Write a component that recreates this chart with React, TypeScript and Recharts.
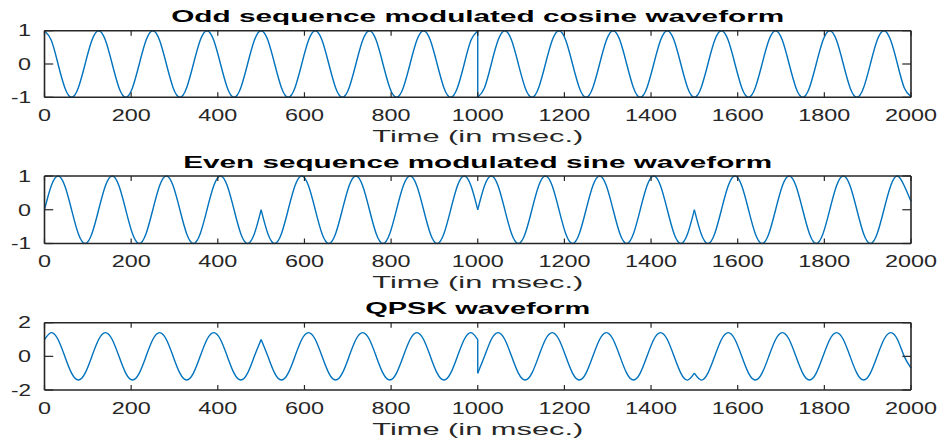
import { Label, Line, LineChart, XAxis, YAxis } from "recharts";

// sample instants (ms), 8 per 125 ms carrier period
const timeMs = [
  0, 15.625, 31.25, 46.875, 62.5, 78.125, 93.75, 109.375,
  125, 140.625, 156.25, 171.875, 187.5, 203.125, 218.75, 234.375,
  250, 265.625, 281.25, 296.875, 312.5, 328.125, 343.75, 359.375,
  375, 390.625, 406.25, 421.875, 437.5, 453.125, 468.75, 484.375,
  500, 515.625, 531.25, 546.875, 562.5, 578.125, 593.75, 609.375,
  625, 640.625, 656.25, 671.875, 687.5, 703.125, 718.75, 734.375,
  750, 765.625, 781.25, 796.875, 812.5, 828.125, 843.75, 859.375,
  875, 890.625, 906.25, 921.875, 937.5, 953.125, 968.75, 984.375,
  1000, 1015.625, 1031.25, 1046.875, 1062.5, 1078.125, 1093.75, 1109.375,
  1125, 1140.625, 1156.25, 1171.875, 1187.5, 1203.125, 1218.75, 1234.375,
  1250, 1265.625, 1281.25, 1296.875, 1312.5, 1328.125, 1343.75, 1359.375,
  1375, 1390.625, 1406.25, 1421.875, 1437.5, 1453.125, 1468.75, 1484.375,
  1500, 1515.625, 1531.25, 1546.875, 1562.5, 1578.125, 1593.75, 1609.375,
  1625, 1640.625, 1656.25, 1671.875, 1687.5, 1703.125, 1718.75, 1734.375,
  1750, 1765.625, 1781.25, 1796.875, 1812.5, 1828.125, 1843.75, 1859.375,
  1875, 1890.625, 1906.25, 1921.875, 1937.5, 1953.125, 1968.75, 1984.375,
  2000,
];

// each inner list is one bit interval, sharing its end sample with the next
const oddCosine = [
  [
    1, 0.71, 0, -0.71, -1, -0.71, 0, 0.71,
    1, 0.71, 0, -0.71, -1, -0.71, 0, 0.71,
    1, 0.71, 0, -0.71, -1, -0.71, 0, 0.71,
    1, 0.71, 0, -0.71, -1, -0.71, 0, 0.71,
    1, 0.71, 0, -0.71, -1, -0.71, 0, 0.71,
    1, 0.71, 0, -0.71, -1, -0.71, 0, 0.71,
    1, 0.71, 0, -0.71, -1, -0.71, 0, 0.71,
    1, 0.71, 0, -0.71, -1, -0.71, 0, 0.71,
    1,
  ],
  [
    -1, -0.71, 0, 0.71, 1, 0.71, 0, -0.71,
    -1, -0.71, 0, 0.71, 1, 0.71, 0, -0.71,
    -1, -0.71, 0, 0.71, 1, 0.71, 0, -0.71,
    -1, -0.71, 0, 0.71, 1, 0.71, 0, -0.71,
    -1, -0.71, 0, 0.71, 1, 0.71, 0, -0.71,
    -1, -0.71, 0, 0.71, 1, 0.71, 0, -0.71,
    -1, -0.71, 0, 0.71, 1, 0.71, 0, -0.71,
    -1, -0.71, 0, 0.71, 1, 0.71, 0, -0.71,
    -0.98,
  ],
];

const evenSine = [
  [
    0, 0.71, 1, 0.71, 0, -0.71, -1, -0.71,
    0, 0.71, 1, 0.71, 0, -0.71, -1, -0.71,
    0, 0.71, 1, 0.71, 0, -0.71, -1, -0.71,
    0, 0.71, 1, 0.71, 0, -0.71, -1, -0.71,
    0,
  ],
  [
    0, -0.71, -1, -0.71, 0, 0.71, 1, 0.71,
    0, -0.71, -1, -0.71, 0, 0.71, 1, 0.71,
    0, -0.71, -1, -0.71, 0, 0.71, 1, 0.71,
    0, -0.71, -1, -0.71, 0, 0.71, 1, 0.71,
    0,
  ],
  [
    0, 0.71, 1, 0.71, 0, -0.71, -1, -0.71,
    0, 0.71, 1, 0.71, 0, -0.71, -1, -0.71,
    0, 0.71, 1, 0.71, 0, -0.71, -1, -0.71,
    0, 0.71, 1, 0.71, 0, -0.71, -1, -0.71,
    0,
  ],
  [
    0, -0.71, -1, -0.71, 0, 0.71, 1, 0.71,
    0, -0.71, -1, -0.71, 0, 0.71, 1, 0.71,
    0, -0.71, -1, -0.71, 0, 0.71, 1, 0.71,
    0, -0.71, -1, -0.71, 0, 0.71, 1, 0.71,
    0.25,
  ],
];

const qpskWave = [
  [
    1, 1.41, 1, 0, -1, -1.41, -1, 0,
    1, 1.41, 1, 0, -1, -1.41, -1, 0,
    1, 1.41, 1, 0, -1, -1.41, -1, 0,
    1, 1.41, 1, 0, -1, -1.41, -1, 0,
    1,
  ],
  [
    1, 0, -1, -1.41, -1, 0, 1, 1.41,
    1, 0, -1, -1.41, -1, 0, 1, 1.41,
    1, 0, -1, -1.41, -1, 0, 1, 1.41,
    1, 0, -1, -1.41, -1, 0, 1, 1.41,
    1,
  ],
  [
    -1, 0, 1, 1.41, 1, 0, -1, -1.41,
    -1, 0, 1, 1.41, 1, 0, -1, -1.41,
    -1, 0, 1, 1.41, 1, 0, -1, -1.41,
    -1, 0, 1, 1.41, 1, 0, -1, -1.41,
    -1,
  ],
  [
    -1, -1.41, -1, 0, 1, 1.41, 1, 0,
    -1, -1.41, -1, 0, 1, 1.41, 1, 0,
    -1, -1.41, -1, 0, 1, 1.41, 1, 0,
    -1, -1.41, -1, 0, 1, 1.41, 1, 0,
    -0.7,
  ],
];

const timeTicks = [0, 200, 400, 600, 800, 1000, 1200, 1400, 1600, 1800, 2000];
const unitTicks = [-1, 0, 1];
const qpskTicks = [-2, 0, 2];

const AXIS = "#262626";
const BLUE = "#0072BD";
const FONT = "'Liberation Sans', Arial, Helvetica, sans-serif";

type Row = { t: number; v: number };

function toSegments(segments: number[][]): Row[][] {
  let start = 0;
  return segments.map((values) => {
    const rows = values.map((v, i) => ({ t: timeMs[start + i], v }));
    start += values.length - 1;
    return rows;
  });
}

// vertical connector where one interval ends on a different value than the next starts
function toJumps(segs: Row[][]): Row[][] {
  const jumps: Row[][] = [];
  for (let i = 1; i < segs.length; i++) {
    const prev = segs[i - 1][segs[i - 1].length - 1];
    const next = segs[i][0];
    if (prev.v !== next.v) jumps.push([prev, next]);
  }
  return jumps;
}

function StretchText(props: {
  x: number;
  y: number;
  text: string;
  width: number;
  size: number;
  bold?: boolean;
  anchor: "start" | "middle" | "end";
  fill?: string;
  dy?: string;
}) {
  return (
    <text
      x={props.x}
      y={props.y}
      dy={props.dy}
      textAnchor={props.anchor}
      fontFamily={FONT}
      fontSize={props.size}
      fontWeight={props.bold ? 700 : 400}
      fill={props.fill ?? AXIS}
      textLength={props.width}
      lengthAdjust="spacingAndGlyphs"
    >
      {props.text}
    </text>
  );
}

const tickWidth = (s: string) =>
  s.split("").reduce((w, c) => w + (c === "-" ? 7 : 13), 0);

interface PanelProps {
  top: number;
  marginTop: number;
  plotHeight: number;
  title: string;
  titleWidth: number;
  segments: number[][];
  yTicks: number[];
}

function Panel({ top, marginTop, plotHeight, title, titleWidth, segments, yTicks }: PanelProps) {
  const segs = toSegments(segments);
  const jumps = toJumps(segs);
  const domain = [yTicks[0], yTicks[yTicks.length - 1]];
  const height = marginTop + plotHeight + 50;

  return (
    <div style={{ position: "absolute", left: 0, top }}>
      <LineChart
        width={943}
        height={height}
        margin={{ top: marginTop - 1, right: 31, left: 0, bottom: 0 }}
      >
        <XAxis
          dataKey="t"
          type="number"
          domain={[0, 2000]}
          ticks={timeTicks}
          height={50}
          stroke={AXIS}
          axisLine={{ stroke: AXIS, strokeWidth: 1.6 }}
          tickLine={{ stroke: AXIS, strokeWidth: 1.2 }}
          tickSize={-5}
          tickMargin={28.5}
          interval={0}
          tick={(p: any) => {
            const s = String(p.payload.value);
            return (
              <StretchText x={p.x} y={p.y} text={s} width={tickWidth(s)} size={16} anchor="middle" />
            );
          }}
        >
          <Label
            content={(p: any) => {
              const vb = p.viewBox ?? { x: 44.5, y: marginTop + plotHeight, width: 866.5 };
              return (
                <g>
                  <StretchText
                    x={vb.x + vb.width / 2}
                    y={vb.y + 44.7}
                    text="Time (in msec.)"
                    width={211}
                    size={17}
                    anchor="middle"
                  />
                  <StretchText
                    x={vb.x + vb.width / 2}
                    y={vb.y - plotHeight - 8.3}
                    text={title}
                    width={titleWidth}
                    size={17}
                    bold
                    fill="#000000"
                    anchor="middle"
                  />
                </g>
              );
            }}
          />
        </XAxis>
        {/* mirrored box sides: same scales, inward ticks, no labels (1px deep so they render) */}
        <XAxis
          xAxisId="top"
          orientation="top"
          dataKey="t"
          type="number"
          domain={[0, 2000]}
          ticks={timeTicks}
          height={1}
          stroke={AXIS}
          axisLine={{ stroke: AXIS, strokeWidth: 1.6 }}
          tickLine={{ stroke: AXIS, strokeWidth: 1.2 }}
          tickSize={-5}
          interval={0}
          tick={() => <g />}
        />
        <YAxis
          type="number"
          domain={domain}
          ticks={yTicks}
          width={44.5}
          stroke={AXIS}
          axisLine={{ stroke: AXIS, strokeWidth: 1.6 }}
          tickLine={{ stroke: AXIS, strokeWidth: 1.2 }}
          tickSize={-8.7}
          tickMargin={22.2}
          interval={0}
          tick={(p: any) => {
            const s = String(p.payload.value);
            return (
              <StretchText x={p.x} y={p.y} dy="0.36em" text={s} width={tickWidth(s)} size={16} anchor="end" />
            );
          }}
        />
        <YAxis
          yAxisId="right"
          orientation="right"
          type="number"
          domain={domain}
          ticks={yTicks}
          width={1}
          stroke={AXIS}
          axisLine={{ stroke: AXIS, strokeWidth: 1.6 }}
          tickLine={{ stroke: AXIS, strokeWidth: 1.2 }}
          tickSize={-8.7}
          interval={0}
          tick={() => <g />}
        />
        {segs.map((rows, i) => (
          <Line
            key={`seg-${i}`}
            data={rows}
            dataKey="v"
            type="natural"
            xAxisId={i % 2 ? "top" : 0}
            yAxisId={i % 2 ? "right" : 0}
            stroke={BLUE}
            strokeWidth={1.4}
            dot={false}
            activeDot={false}
            isAnimationActive={false}
          />
        ))}
        {jumps.map((rows, i) => (
          <Line
            key={`jump-${i}`}
            data={rows}
            dataKey="v"
            type="linear"
            stroke={BLUE}
            strokeWidth={1.4}
            dot={false}
            activeDot={false}
            isAnimationActive={false}
          />
        ))}
      </LineChart>
    </div>
  );
}

export default function App() {
  return (
    <div
      style={{
        position: "absolute",
        left: 0,
        top: 0,
        width: 943,
        height: 443,
        background: "#ffffff",
        overflow: "hidden",
      }}
    >
      <Panel
        top={0}
        marginTop={30.7}
        plotHeight={66.6}
        title="Odd sequence modulated cosine waveform"
        titleWidth={613}
        segments={oddCosine}
        yTicks={unitTicks}
      />
      <Panel
        top={145}
        marginTop={31}
        plotHeight={67.5}
        title="Even sequence modulated sine waveform"
        titleWidth={589}
        segments={evenSine}
        yTicks={unitTicks}
      />
      <Panel
        top={292}
        marginTop={30.7}
        plotHeight={67.3}
        title="QPSK waveform"
        titleWidth={225}
        segments={qpskWave}
        yTicks={qpskTicks}
      />
    </div>
  );
}
